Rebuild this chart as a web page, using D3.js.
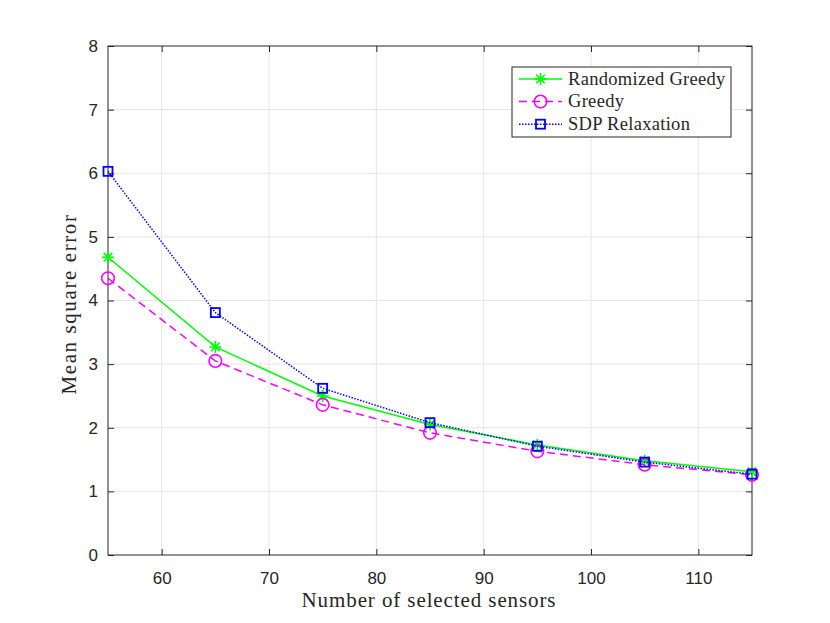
<!DOCTYPE html>
<html>
<head>
<meta charset="utf-8">
<script src="https://cdn.jsdelivr.net/npm/d3@7"></script>
<style>
  body { margin: 0; background: #fff; }
  svg text { fill: #262626; }
</style>
</head>
<body>
<div class="chart"></div>
<script>
const WIDTH = 830;
const HEIGHT = 623;
const MARGIN = {top: 46, right: 78, bottom: 68, left: 108};

var sensors = [55, 65, 75, 85, 95, 105, 115];
var randGreedy = [4.68, 3.27, 2.50, 2.05, 1.73, 1.48, 1.31];
var greedy = [4.35, 3.05, 2.36, 1.92, 1.63, 1.42, 1.26];
var sdp = [6.03, 3.81, 2.62, 2.08, 1.71, 1.46, 1.27];

var xTicks = [60, 70, 80, 90, 100, 110];
var yTicks = [0, 1, 2, 3, 4, 5, 6, 7, 8];

var seriesNames = ['Randomized Greedy', 'Greedy', 'SDP Relaxation'];

var plotW = WIDTH - MARGIN.left - MARGIN.right;
var plotH = HEIGHT - MARGIN.top - MARGIN.bottom;

var xScale = d3.scaleLinear().domain([55, 115]).range([0, plotW]);
var yScale = d3.scaleLinear().domain([0, 8]).range([plotH, 0]);

function zip(xs, ys) {
    return xs.map(function (x, i) { return {x: x, y: ys[i]}; });
}

var series = [
    {name: seriesNames[0], values: zip(sensors, randGreedy), color: '#00ff00', dash: null, marker: 'star'},
    {name: seriesNames[1], values: zip(sensors, greedy), color: '#ff00ff', dash: '8,5', marker: 'circle'},
    {name: seriesNames[2], values: zip(sensors, sdp), color: '#0000ff', dash: '1.5,1.5', marker: 'square'}
];

var svg = d3.select('.chart').append('svg')
    .attr('width', WIDTH)
    .attr('height', HEIGHT);
var g = svg.append('g')
    .attr('transform', 'translate(' + MARGIN.left + ',' + MARGIN.top + ')');

// grid
g.append('g').selectAll('line').data(xTicks).enter().append('line')
    .attr('x1', xScale).attr('x2', xScale)
    .attr('y1', 0).attr('y2', plotH)
    .attr('stroke', '#e5e5e5').attr('stroke-width', 1);
g.append('g').selectAll('line').data(yTicks.slice(1, -1)).enter().append('line')
    .attr('y1', yScale).attr('y2', yScale)
    .attr('x1', 0).attr('x2', plotW)
    .attr('stroke', '#e5e5e5').attr('stroke-width', 1);

// axes, ticks inward
var tickFont = 'Liberation Sans, Arial, sans-serif';
function styleAxis(sel) {
    sel.select('.domain').remove();
    sel.selectAll('.tick line').attr('stroke', '#262626');
    sel.selectAll('.tick text')
        .attr('font-family', tickFont).attr('font-size', 17).attr('fill', '#262626');
}
var xAxis = d3.axisBottom(xScale).tickValues(xTicks).tickSizeInner(-6).tickSizeOuter(0).tickPadding(17);
var yAxis = d3.axisLeft(yScale).tickValues(yTicks).tickSizeInner(-6).tickSizeOuter(0).tickPadding(10);
g.append('g').attr('transform', 'translate(0,' + plotH + ')').call(xAxis).call(styleAxis);
g.append('g').call(yAxis).call(styleAxis);
g.append('g').call(d3.axisTop(xScale).tickValues(xTicks).tickSize(-6).tickFormat(''))
    .call(styleAxis);
g.append('g').attr('transform', 'translate(' + plotW + ',0)')
    .call(d3.axisRight(yScale).tickValues(yTicks).tickSize(-6).tickFormat(''))
    .call(styleAxis);

g.append('rect')
    .attr('width', plotW).attr('height', plotH)
    .attr('fill', 'none').attr('stroke', '#262626').attr('stroke-width', 1);

// lines and markers
var line = d3.line()
    .x(function (d) { return xScale(d.x); })
    .y(function (d) { return yScale(d.y); });

function drawMarker(sel, type, color) {
    if (type === 'star') {
        var r = 6, r2 = 4.3;
        sel.append('path')
            .attr('d', 'M' + (-r) + ',0H' + r + 'M0,' + (-r) + 'V' + r +
                'M' + (-r2) + ',' + (-r2) + 'L' + r2 + ',' + r2 +
                'M' + (-r2) + ',' + r2 + 'L' + r2 + ',' + (-r2))
            .attr('stroke', color).attr('stroke-width', 1.6).attr('fill', 'none');
    } else if (type === 'circle') {
        sel.append('circle').attr('r', 6.3)
            .attr('stroke', color).attr('stroke-width', 1.6).attr('fill', 'none');
    } else {
        sel.append('rect').attr('x', -4.5).attr('y', -4.5).attr('width', 9).attr('height', 9)
            .attr('stroke', color).attr('stroke-width', 1.8).attr('fill', 'none');
    }
}

series.forEach(function (s) {
    var sg = g.append('g');
    sg.append('path')
        .attr('d', line(s.values))
        .attr('stroke', s.color).attr('stroke-width', 1.5)
        .attr('stroke-dasharray', s.dash)
        .attr('fill', 'none');
    sg.selectAll('.m').data(s.values).enter().append('g')
        .attr('transform', function (d) { return 'translate(' + xScale(d.x) + ',' + yScale(d.y) + ')'; })
        .each(function () { drawMarker(d3.select(this), s.marker, s.color); });
});

// axis labels
var labelFont = 'Liberation Serif, Times New Roman, serif';
svg.append('text')
    .attr('x', 429).attr('y', 607)
    .attr('text-anchor', 'middle')
    .attr('font-family', labelFont).attr('font-size', 21)
    .attr('letter-spacing', 0.9)
    .text('Number of selected sensors');
svg.append('text')
    .attr('transform', 'translate(76,304) rotate(-90)')
    .attr('text-anchor', 'middle')
    .attr('font-family', labelFont).attr('font-size', 21)
    .attr('letter-spacing', 1.6)
    .text('Mean square error');

// legend
var legend = svg.append('g').attr('transform', 'translate(512,67)');
legend.append('rect')
    .attr('width', 219).attr('height', 70)
    .attr('fill', '#fff').attr('stroke', '#262626').attr('stroke-width', 1);
series.forEach(function (s, i) {
    var row = legend.append('g').attr('transform', 'translate(0,' + (12 + i * 22.6) + ')');
    row.append('line')
        .attr('x1', 7).attr('x2', 50).attr('y1', 0).attr('y2', 0)
        .attr('stroke', s.color).attr('stroke-width', 1.5)
        .attr('stroke-dasharray', s.dash);
    drawMarker(row.append('g').attr('transform', 'translate(28.5,0)'), s.marker, s.color);
    row.append('text')
        .attr('x', 56).attr('y', 5.5)
        .attr('font-family', labelFont).attr('font-size', 18.5)
        .attr('letter-spacing', 0.3)
        .text(s.name);
});
</script>
</body>
</html>
